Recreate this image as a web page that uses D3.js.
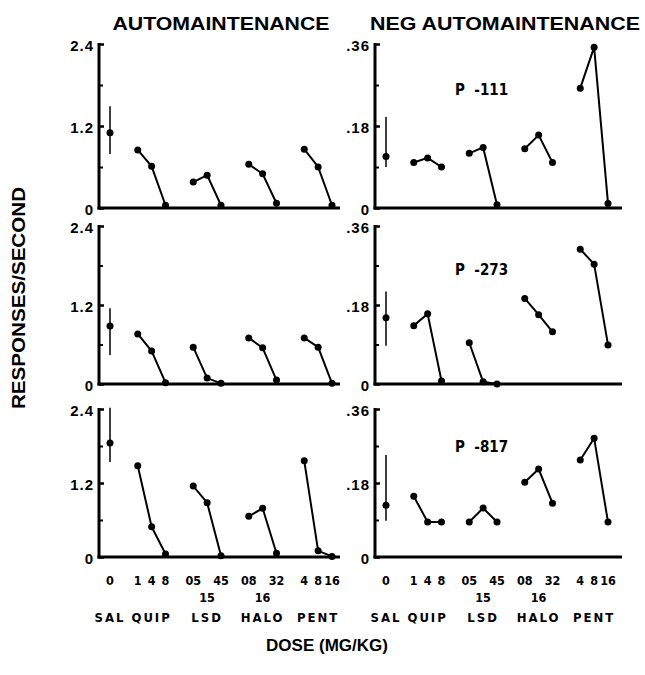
<!DOCTYPE html>
<html>
<head>
<meta charset="utf-8">
<script src="https://cdn.jsdelivr.net/npm/d3@7"></script>
<style>
  body { margin: 0; background: #fff; }
  svg text { fill: #000; }
  .title, .tick text { font-family: "Liberation Sans", Arial, sans-serif; font-weight: bold; }
  .lab { font-family: "Liberation Sans Narrow", "DejaVu Sans Condensed", sans-serif; font-weight: bold; }
</style>
</head>
<body>
<div id="chart"></div>
<script>
// groups along the dose axis
const groups = ["SAL", "QUIP", "LSD", "HALO", "PENT"];
const doseLabels = [["0"], ["1", "4", "8"], ["05", "15", "45"], ["08", "16", "32"], ["4", "8", "16"]];
const subjects = ["P -111", "P -273", "P -817"];

const autoTicks = [0, 1.2, 2.4];
const negTicks = [0, 0.18, 0.36];
const autoTickText = ["0", "1.2", "2.4"];
const negTickText = ["0", ".18", ".36"];

// saline: [mean, low, high]
const autoSal = [[1.10, 0.79, 1.49], [0.88, 0.44, 1.15], [1.85, 1.54, 2.42]];
const negSal = [[0.113, 0.09, 0.20], [0.151, 0.087, 0.211], [0.126, 0.088, 0.248]];

// drugs: QUIP x3, LSD x3, HALO x3, PENT x3
const autoDrug = [
  [0.85, 0.61, 0.04, 0.38, 0.48, 0.04, 0.64, 0.50, 0.07, 0.86, 0.60, 0.04],
  [0.76, 0.50, 0.02, 0.56, 0.09, 0.01, 0.70, 0.55, 0.06, 0.70, 0.56, 0.01],
  [1.48, 0.49, 0.05, 1.15, 0.88, 0.02, 0.66, 0.79, 0.06, 1.56, 0.10, 0.01]
];
const negDrug = [
  [0.100, 0.110, 0.090, 0.120, 0.133, 0.007, 0.130, 0.160, 0.100, 0.263, 0.353, 0.010],
  [0.133, 0.160, 0.007, 0.094, 0.005, 0.000, 0.195, 0.158, 0.119, 0.307, 0.273, 0.089],
  [0.148, 0.085, 0.085, 0.085, 0.119, 0.085, 0.182, 0.214, 0.131, 0.236, 0.289, 0.085]
];

const W = 645, H = 675;
const rowsGeom = [{top: 44, base: 208, label: 95}, {top: 226, base: 384, label: 275}, {top: 409, base: 557, label: 452}];
const colsGeom = [{x: 99, end: 340}, {x: 375, end: 622}];

const svg = d3.select("#chart").append("svg")
  .attr("width", W).attr("height", H)
  .attr("viewBox", [0, 0, W, H]);

// slot index for each dose (SAL = 0, then groups of three spaced by 4)
function slot(gi, di) { return gi === 0 ? 0 : 4 * gi - 2 + di; }

function drawPanel(col, row, max, ticks, tickText, sal, drug, subject) {
  const c = colsGeom[col], r = rowsGeom[row];
  const y = d3.scaleLinear().domain([0, max]).range([r.base, r.top]);
  const x = d3.scaleLinear().domain([0, 16]).range([c.x + 11, c.x + 233]);
  const g = svg.append("g");

  // y axis with inward ticks, labels on the left
  const ax = g.append("g").attr("transform", `translate(${c.x},0)`)
    .call(d3.axisLeft(y).tickValues(ticks).tickFormat((d, i) => tickText[i])
      .tickSizeInner(-5).tickSizeOuter(0).tickPadding(5));
  ax.select(".domain").remove();
  ax.selectAll(".tick line").attr("stroke-width", 2.5);
  ax.selectAll(".tick text").attr("font-size", 15).attr("letter-spacing", 1).attr("dy", "0.4em");
  const minor = g.append("g").attr("transform", `translate(${c.x},0)`)
    .call(d3.axisLeft(y).tickValues([max / 4, max * 3 / 4]).tickFormat("")
      .tickSizeInner(-4).tickSizeOuter(0));
  minor.select(".domain").remove();
  minor.selectAll(".tick line").attr("stroke-width", 2);

  g.append("line").attr("x1", c.x).attr("x2", c.x)
    .attr("y1", y(max) - 1).attr("y2", y(0) + 1.5)
    .attr("stroke", "#000").attr("stroke-width", 3);
  g.append("line").attr("x1", c.x - 1.5).attr("x2", c.end)
    .attr("y1", y(0)).attr("y2", y(0))
    .attr("stroke", "#000").attr("stroke-width", 3);

  // saline mean with error bar
  g.append("line").attr("x1", x(0)).attr("x2", x(0))
    .attr("y1", y(sal[1])).attr("y2", y(sal[2]))
    .attr("stroke", "#000").attr("stroke-width", 1.5);
  g.append("circle").attr("cx", x(0)).attr("cy", y(sal[0])).attr("r", 3.5);

  const line = d3.line().x(d => x(d.s)).y(d => y(d.v));
  for (let gi = 1; gi < groups.length; gi++) {
    const pts = [0, 1, 2].map(di => ({s: slot(gi, di), v: drug[row][(gi - 1) * 3 + di]}));
    g.append("path").datum(pts).attr("d", line)
      .attr("fill", "none").attr("stroke", "#000").attr("stroke-width", 2);
    g.selectAll(null).data(pts).join("circle")
      .attr("cx", d => x(d.s)).attr("cy", d => y(d.v)).attr("r", 3.5);
  }

  if (subject) {
    g.append("text").attr("class", "lab")
      .attr("x", c.x + 80).attr("y", r.label)
      .attr("font-size", 15).attr("xml:space", "preserve").text(subject.replace(" ", "  "));
  }

  // dose and group labels under the bottom row
  if (row === 2) {
    doseLabels.forEach((labs, gi) => {
      labs.forEach((t, di) => {
        const low = (gi === 2 || gi === 3) && di === 1;
        g.append("text").attr("class", "lab")
          .attr("x", x(slot(gi, di))).attr("y", low ? 602 : 585)
          .attr("text-anchor", "middle").attr("font-size", 12.5).text(t);
      });
      const mid = slot(gi, labs.length === 1 ? 0 : 1);
      g.append("text").attr("class", "lab")
        .attr("x", x(mid)).attr("y", 622)
        .attr("text-anchor", "middle").attr("font-size", 13)
        .attr("letter-spacing", 2).text(groups[gi]);
    });
  }
}

for (let row = 0; row < 3; row++) {
  drawPanel(0, row, 2.4, autoTicks, autoTickText, autoSal[row], autoDrug, null);
  drawPanel(1, row, 0.36, negTicks, negTickText, negSal[row], negDrug, subjects[row]);
}

svg.append("text").attr("class", "title")
  .attr("x", 221).attr("y", 30).attr("text-anchor", "middle")
  .attr("font-size", 18).attr("textLength", 217).attr("lengthAdjust", "spacingAndGlyphs")
  .text("AUTOMAINTENANCE");
svg.append("text").attr("class", "title")
  .attr("x", 505).attr("y", 30).attr("text-anchor", "middle")
  .attr("font-size", 18).attr("textLength", 270).attr("lengthAdjust", "spacingAndGlyphs")
  .text("NEG AUTOMAINTENANCE");
svg.append("text").attr("class", "title")
  .attr("transform", "translate(25,298) rotate(-90)").attr("text-anchor", "middle")
  .attr("font-size", 18).attr("textLength", 222).attr("lengthAdjust", "spacingAndGlyphs")
  .text("RESPONSES/SECOND");
svg.append("text").attr("class", "title")
  .attr("x", 327).attr("y", 651).attr("text-anchor", "middle")
  .attr("font-size", 17).text("DOSE (MG/KG)");
</script>
</body>
</html>
